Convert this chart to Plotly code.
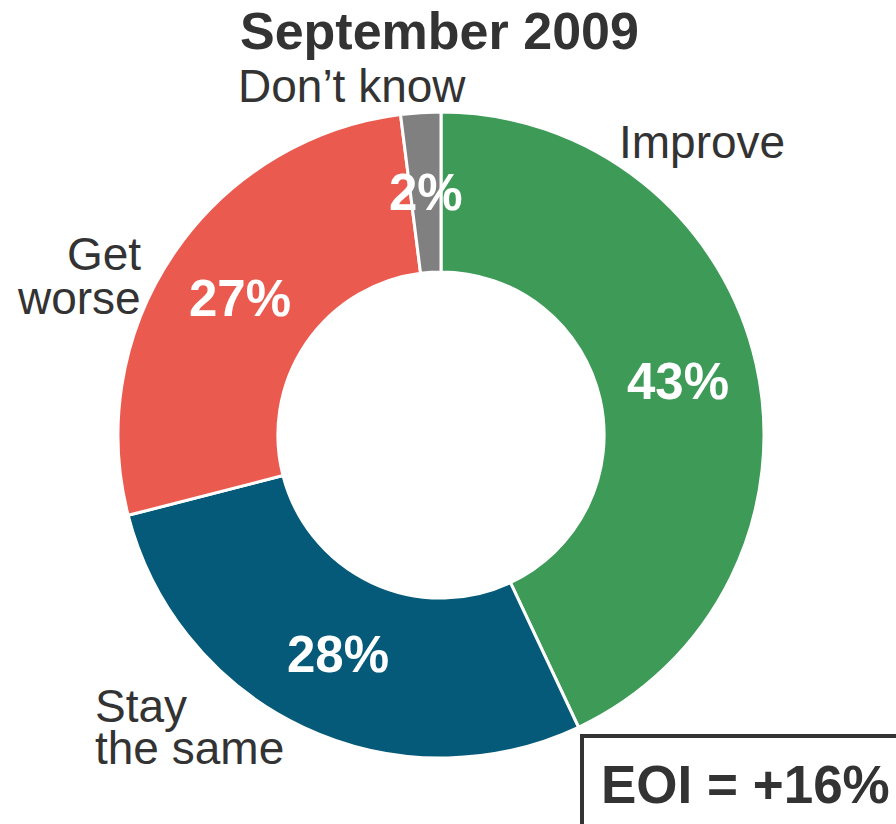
import math
import plotly.graph_objects as go

# ─── Data ─────────────────────────────────────────────────────────────────────
CATEGORIES = ["Improve", "Stay the same", "Get worse", "Don’t know"]
SHARES = [43, 28, 27, 2]
SLICE_COLORS = ["#3d9a57", "#045a78", "#eb5a4f", "#808080"]
TITLE = "September 2009"
EOI_TEXT = "EOI = +16%"

W, H = 896, 824
DARK = "#333333"
FONT = "Arial, Liberation Sans, sans-serif"

# pie geometry in pixels
CX, CY, R = 441, 435, 323
HOLE = 0.505


def px_x(x):
    return x / W


def px_y(y):
    return 1 - y / H


fig = go.Figure(go.Pie(
    labels=CATEGORIES,
    values=SHARES,
    sort=False,
    direction="clockwise",
    rotation=0,
    hole=HOLE,
    marker=dict(colors=SLICE_COLORS, line=dict(color="white", width=3)),
    textinfo="none",
    domain=dict(x=[px_x(CX - R), px_x(CX + R)], y=[px_y(CY + R), px_y(CY - R)]),
    showlegend=False,
    hoverinfo="label+percent",
))

# percentage labels at the middle of each ring segment (angles from the data)
total = sum(SHARES)
start = 0.0
r_mid = R * (1 + HOLE) / 2
for v in SHARES:
    mid = (start + v / 2) / total * 2 * math.pi
    start += v
    fig.add_annotation(
        text=f"{v}%", x=px_x(CX + r_mid * math.sin(mid)), y=px_y(CY - r_mid * math.cos(mid)),
        xref="paper", yref="paper", xanchor="center", yanchor="middle", showarrow=False,
        font=dict(size=51, color="white", family=FONT, weight="bold"),
    )

# outside category labels (one annotation per line, tight leading)
label_lines = [
    ("Don’t know", 352, 86, "center"),
    ("Improve", 617, 142, "left"),
    ("Get", 143, 254, "right"),
    ("worse", 143, 298, "right"),
    ("Stay", 93, 706, "left"),
    ("the same", 93, 748, "left"),
]
for txt, x, y, anchor in label_lines:
    fig.add_annotation(
        text=txt, x=px_x(x), y=px_y(y), xref="paper", yref="paper",
        xanchor=anchor, yanchor="middle", showarrow=False,
        font=dict(size=46, color=DARK, family=FONT),
    )

fig.add_annotation(
    text=TITLE, x=px_x(439), y=px_y(31), xref="paper", yref="paper",
    xanchor="center", yanchor="middle", showarrow=False,
    font=dict(size=52, color=DARK, family=FONT, weight="bold"),
)

# EOI box, running off the bottom-right corner
fig.add_shape(
    type="rect", xref="paper", yref="paper",
    x0=px_x(582), x1=px_x(910), y0=px_y(736), y1=px_y(840),
    line=dict(color=DARK, width=4), fillcolor="white",
)
fig.add_annotation(
    text=EOI_TEXT, x=px_x(745), y=px_y(784), xref="paper", yref="paper",
    xanchor="center", yanchor="middle", showarrow=False,
    font=dict(size=53, color=DARK, family=FONT, weight="bold"),
)

fig.update_layout(
    width=W, height=H,
    margin=dict(t=0, b=0, l=0, r=0),
    paper_bgcolor="white",
    plot_bgcolor="white",
)

fig.write_html("out.html", config={"displayModeBar": False},
               post_script="document.body.style.margin='0';")
